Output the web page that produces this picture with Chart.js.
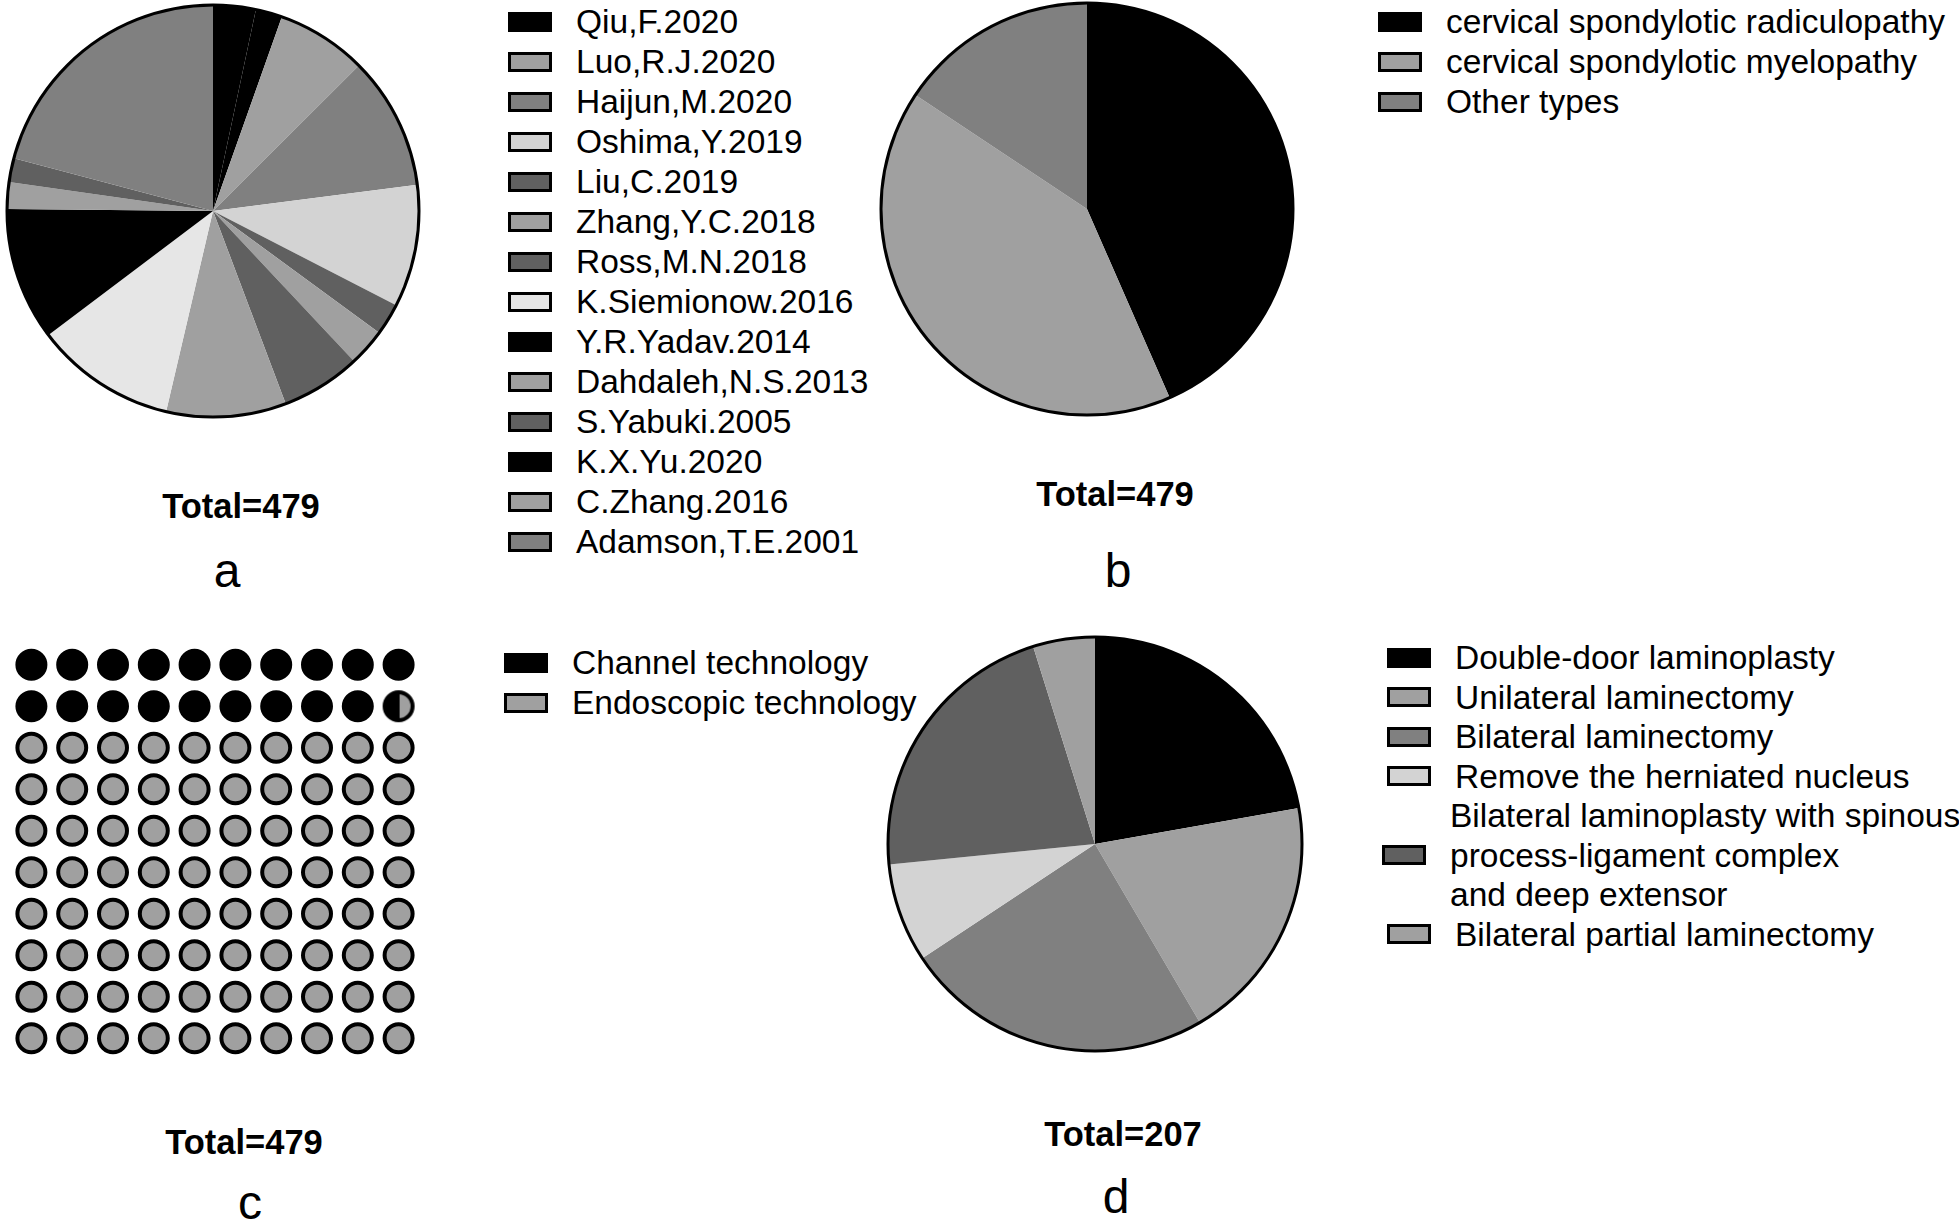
<!DOCTYPE html>
<html>
<head>
<meta charset="utf-8">
<script src="https://cdn.jsdelivr.net/npm/chart.js@4.4.1/dist/chart.umd.min.js"></script>
<style>
html,body{margin:0;padding:0;background:#fff;}
body{width:1959px;height:1222px;position:relative;overflow:hidden;font-family:"Liberation Sans",Arial,sans-serif;color:#000;}
canvas{position:absolute;}
.legend{position:absolute;margin:0;padding:0;list-style:none;font-size:33.5px;line-height:40px;}
.legend li{display:flex;align-items:center;white-space:nowrap;}
.legend li.multi{margin-left:-5px;}
.legend .box{display:inline-block;width:38px;height:14px;border:3px solid #000;margin-right:24px;flex:none;}
.lbl{position:absolute;transform:translate(-50%,-50%);white-space:nowrap;line-height:1;}
.total{font-weight:bold;font-size:34.5px;}
.letter{font-size:48px;}
</style>
</head>
<body>
<canvas id="pieA" width="420" height="420" style="left:3px;top:1px"></canvas>
<ul id="legA" class="legend" style="left:508px;top:2px"></ul>
<div class="lbl total" style="left:241px;top:506px">Total=479</div>
<div class="lbl letter" style="left:227px;top:571px">a</div>

<canvas id="pieB" width="420" height="420" style="left:877px;top:-1px"></canvas>
<ul id="legB" class="legend" style="left:1378px;top:2px"></ul>
<div class="lbl total" style="left:1115px;top:494px">Total=479</div>
<div class="lbl letter" style="left:1118px;top:571px">b</div>

<canvas id="waffleC" width="408" height="415" style="left:11px;top:644px"></canvas>
<ul id="legC" class="legend" style="left:504px;top:643px"></ul>
<div class="lbl total" style="left:244px;top:1142px">Total=479</div>
<div class="lbl letter" style="left:250px;top:1203px">c</div>

<canvas id="pieD" width="422" height="422" style="left:884px;top:633px"></canvas>
<ul id="legD" class="legend" style="left:1387px;top:638px;line-height:39.5px"></ul>
<div class="lbl total" style="left:1123px;top:1134px">Total=207</div>
<div class="lbl letter" style="left:1116px;top:1197px">d</div>

<script>
// ---------- Panel a: cases per study (pie order clockwise from top) ----------
const studyLabels = ['Qiu,F.2020','K.X.Yu.2020','Luo,R.J.2020','Haijun,M.2020','Oshima,Y.2019','Liu,C.2019',
  'Zhang,Y.C.2018','Ross,M.N.2018','C.Zhang.2016','K.Siemionow.2016','Y.R.Yadav.2014','Dahdaleh,N.S.2013',
  'S.Yabuki.2005','Adamson,T.E.2001'];
const studyCases = [16, 10, 34, 50, 46, 12, 14, 30, 45, 53, 50, 10, 9, 100];
const studyColors = ['#000000','#000000','#a0a0a0','#808080','#d3d3d3','#606060',
  '#a0a0a0','#606060','#a0a0a0','#e6e6e6','#000000','#a0a0a0','#606060','#808080'];
const studyLegendOrder = ['Qiu,F.2020','Luo,R.J.2020','Haijun,M.2020','Oshima,Y.2019','Liu,C.2019','Zhang,Y.C.2018',
  'Ross,M.N.2018','K.Siemionow.2016','Y.R.Yadav.2014','Dahdaleh,N.S.2013','S.Yabuki.2005','K.X.Yu.2020',
  'C.Zhang.2016','Adamson,T.E.2001'];

// ---------- Panel b: disease type ----------
const typeLabels = ['cervical spondylotic radiculopathy','cervical spondylotic myelopathy','Other types'];
const typeCases = [208, 196, 75];
const typeColors = ['#000000','#a0a0a0','#808080'];

// ---------- Panel c: technology (waffle, 100 cells) ----------
const techLabels = ['Channel technology','Endoscopic technology'];
const techCases = [93, 386];
const techColors = ['#000000','#a0a0a0'];

// ---------- Panel d: surgical approach ----------
const surgLabels = ['Double-door laminoplasty','Unilateral laminectomy','Bilateral laminectomy',
  'Remove the herniated nucleus',
  ['Bilateral laminoplasty with spinous','process-ligament complex','and deep extensor'],
  'Bilateral partial laminectomy'];
const surgCases = [46, 40, 50, 16, 45, 10];
const surgColors = ['#000000','#a0a0a0','#808080','#d3d3d3','#606060','#a0a0a0'];

Chart.defaults.font.family = '"Liberation Sans", Arial, sans-serif';

const outerRing = {
  id: 'outerRing',
  afterDatasetsDraw(chart) {
    const arc = chart.getDatasetMeta(0).data[0];
    if (!arc) return;
    const p = arc.getProps(['x','y','outerRadius'], true);
    const ctx = chart.ctx;
    ctx.save();
    ctx.beginPath();
    ctx.arc(p.x, p.y, p.outerRadius, 0, Math.PI * 2);
    ctx.lineWidth = 3;
    ctx.strokeStyle = '#000';
    ctx.stroke();
    ctx.restore();
  }
};

const baseOpts = {
  responsive: false,
  animation: false,
  events: [],
  plugins: { legend: { display: false }, tooltip: { enabled: false }, title: { display: false } }
};

function makePie(id, labels, values, colors) {
  return new Chart(document.getElementById(id), {
    type: 'pie',
    data: { labels: labels, datasets: [{ data: values, backgroundColor: colors, borderWidth: 0 }] },
    options: Object.assign({}, baseOpts, { layout: { padding: 4, autoPadding: false } }),
    plugins: [outerRing]
  });
}

function htmlLegend(chart, elId, order) {
  let items = chart.options.plugins.legend.labels.generateLabels(chart);
  if (order) {
    items = items.slice().sort((a, b) => order.indexOf(String(a.text)) - order.indexOf(String(b.text)));
  }
  const ul = document.getElementById(elId);
  items.forEach(it => {
    const li = document.createElement('li');
    const box = document.createElement('span');
    box.className = 'box';
    box.style.background = it.fillStyle;
    const txt = document.createElement('span');
    const lines = Array.isArray(it.text) ? it.text : [it.text];
    if (lines.length > 1) li.className = 'multi';
    lines.forEach((l, i) => {
      if (i) txt.appendChild(document.createElement('br'));
      txt.appendChild(document.createTextNode(l));
    });
    li.appendChild(box);
    li.appendChild(txt);
    ul.appendChild(li);
  });
}

const chartA = makePie('pieA', studyLabels, studyCases, studyColors);
htmlLegend(chartA, 'legA', studyLegendOrder);

const chartB = makePie('pieB', typeLabels, typeCases, typeColors);
htmlLegend(chartB, 'legB');

const chartD = makePie('pieD', surgLabels, surgCases, surgColors);
htmlLegend(chartD, 'legD');

// ---------- waffle ----------
const techTotal = techCases.reduce((a, b) => a + b, 0);
let acc = 0;
const techBounds = techCases.map(v => (acc += v / techTotal * 100));
const cells = [];
for (let i = 0; i < 100; i++) {
  const k0 = techBounds.findIndex(b => b > i + 1e-9);
  const k1 = techBounds.findIndex(b => b >= i + 1 - 1e-9);
  cells.push({ x: i % 10, y: Math.floor(i / 10), k0: k0, k1: k1 });
}
function mixedCell(leftColor, rightColor) {
  const c = document.createElement('canvas');
  c.width = 34; c.height = 34;
  const g = c.getContext('2d');
  const m = 17, r = 14;
  g.beginPath(); g.moveTo(m, m); g.arc(m, m, r, -Math.PI / 2, Math.PI / 2); g.closePath();
  g.fillStyle = rightColor; g.fill();
  g.beginPath(); g.moveTo(m, m); g.arc(m, m, r, Math.PI / 2, Math.PI * 1.5); g.closePath();
  g.fillStyle = leftColor; g.fill();
  g.beginPath(); g.arc(m, m, r, 0, Math.PI * 2);
  g.lineWidth = 4; g.strokeStyle = '#000'; g.stroke();
  g.beginPath(); g.moveTo(m, m - r); g.lineTo(m, m + r); g.lineWidth = 2; g.stroke();
  return c;
}
const techDatasets = techLabels.map((lab, k) => ({
  label: lab,
  data: cells.filter(c => c.k0 === k),
  backgroundColor: techColors[k],
  borderColor: '#000000',
  pointRadius: 14,
  pointBorderWidth: 4,
  pointStyle: (ctx) => {
    const raw = ctx.raw;
    if (raw && raw.k0 !== raw.k1) return mixedCell(techColors[raw.k0], techColors[raw.k1]);
    return 'circle';
  },
  showLine: false
}));
const chartC = new Chart(document.getElementById('waffleC'), {
  type: 'scatter',
  data: { datasets: techDatasets },
  options: Object.assign({}, baseOpts, {
    layout: { padding: 0, autoPadding: false },
    clip: false,
    scales: {
      x: { type: 'linear', min: -0.5, max: 9.5, display: false },
      y: { type: 'linear', min: -0.5, max: 9.5, reverse: true, display: false }
    }
  })
});
htmlLegend(chartC, 'legC');
</script>
</body>
</html>
